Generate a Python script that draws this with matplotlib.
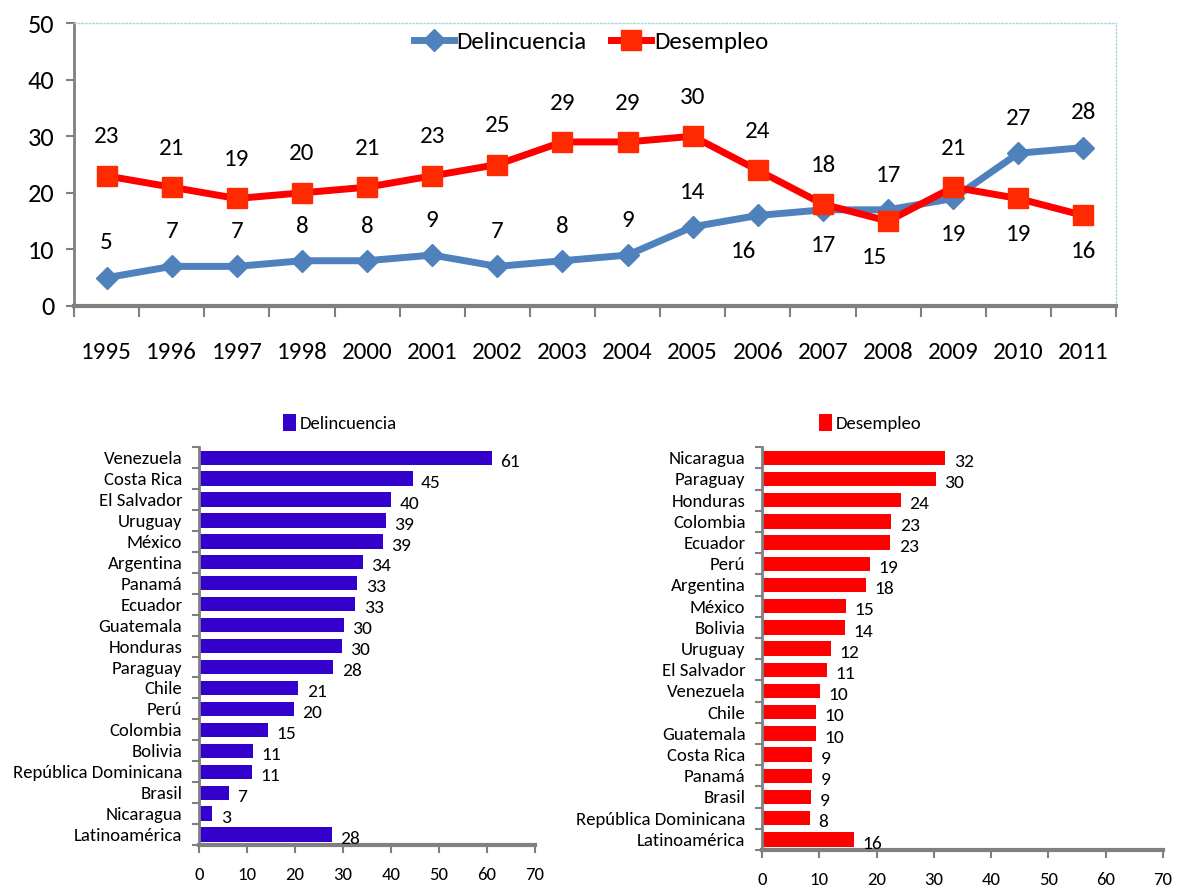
import matplotlib.pyplot as plt
import numpy as np

plt.rcParams['font.family'] = ['Carlito', 'DejaVu Sans']

# top line chart
years = ['1995', '1996', '1997', '1998', '2000', '2001', '2002', '2003', '2004',
         '2005', '2006', '2007', '2008', '2009', '2010', '2011']
delincuencia = [5, 7, 7, 8, 8, 9, 7, 8, 9, 14, 16, 17, 17, 19, 27, 28]
desempleo = [23, 21, 19, 20, 21, 23, 25, 29, 29, 30, 24, 18, 15, 21, 19, 16]
# which labels go below the point
delin_below = ['2006', '2007', '2009']
desem_below = ['2008', '2010', '2011']

# bottom bar charts
paises_delin = ['Venezuela', 'Costa Rica', 'El Salvador', 'Uruguay', 'México', 'Argentina',
                'Panamá', 'Ecuador', 'Guatemala', 'Honduras', 'Paraguay', 'Chile', 'Perú',
                'Colombia', 'Bolivia', 'República Dominicana', 'Brasil', 'Nicaragua',
                'Latinoamérica']
valores_delin = [61, 45, 40, 39, 39, 34, 33, 33, 30, 30, 28, 21, 20, 15, 11, 11, 7, 3, 28]
barras_delin = [61, 44.5, 40, 39, 38.3, 34.2, 33, 32.6, 30.2, 29.8, 28, 20.7, 19.8, 14.3,
                11.2, 11, 6.3, 2.8, 27.7]

paises_desem = ['Nicaragua', 'Paraguay', 'Honduras', 'Colombia', 'Ecuador', 'Perú',
                'Argentina', 'México', 'Bolivia', 'Uruguay', 'El Salvador', 'Venezuela',
                'Chile', 'Guatemala', 'Costa Rica', 'Panamá', 'Brasil',
                'República Dominicana', 'Latinoamérica']
valores_desem = [32, 30, 24, 23, 23, 19, 18, 15, 14, 12, 11, 10, 10, 10, 9, 9, 9, 8, 16]
barras_desem = [32, 30.3, 24.2, 22.6, 22.4, 18.9, 18.2, 14.7, 14.4, 12.1, 11.3, 10.2, 9.4,
                9.4, 8.8, 8.8, 8.6, 8.3, 16]

fig = plt.figure(figsize=(11.8, 8.89), dpi=100)

ax = fig.add_axes([0.0627, 0.6558, 0.8831, 0.3182])
x = np.arange(len(years))
blue = '#4F81BD'
ax.plot(x, delincuencia, color=blue, lw=5, marker='D', ms=11, label='Delincuencia')
ax.plot(x, desempleo, color='#FF0000', lw=5, marker='s', ms=14, mfc='#FF2A00',
        mec='#FF2A00', label='Desempleo')

for i, yr in enumerate(years):
    dy = -26 if yr in delin_below else 25
    dx = -10 if yr in ['2006'] else 0
    ax.annotate(str(delincuencia[i]), (x[i], delincuencia[i]), xytext=(dx, dy),
                textcoords='offset points', ha='center', va='center', fontsize=18)
    dy = -26 if yr in desem_below else 28
    dx = -10 if yr in ['2008'] else 0
    ax.annotate(str(desempleo[i]), (x[i], desempleo[i]), xytext=(dx, dy),
                textcoords='offset points', ha='center', va='center', fontsize=18)

ax.set_xlim(-0.5, len(years) - 0.5)
ax.set_ylim(0, 50)
ax.set_yticks(range(0, 51, 10))
ax.set_xticks(x)
ax.set_xticklabels(years)
ax.set_xticks(np.arange(-0.5, len(years), 1), minor=True)
ax.tick_params(axis='x', which='major', length=0, pad=26, labelsize=18)
ax.tick_params(axis='x', which='minor', length=8, width=1.5, color='#808080', direction='out')
ax.tick_params(axis='y', length=6, width=1.5, color='#808080', labelsize=19, pad=8)
for s in ['left', 'bottom']:
    ax.spines[s].set_color('#808080')
ax.spines['left'].set_linewidth(2)
ax.spines['bottom'].set_linewidth(3)
for s in ['top', 'right']:
    ax.spines[s].set_color('#A8D8E0')
    ax.spines[s].set_linestyle(':')
    ax.spines[s].set_linewidth(1)
ax.legend(loc='upper center', bbox_to_anchor=(0.496, 1.005), ncol=2, frameon=False,
          fontsize=18, handlelength=1.6, handletextpad=0.1, columnspacing=1.0,
          borderaxespad=0)


def barras(rect, paises, largos, valores, color, titulo, leg_x):
    a = fig.add_axes(rect)
    y = np.arange(len(paises))
    a.barh(y, largos, height=0.68, color=color, label=titulo)
    for yi, l, v in zip(y, largos, valores):
        a.annotate(str(v), (l, yi), xytext=(6, -3), textcoords='offset points',
                   ha='left', va='center', fontsize=14)
    a.set_ylim(len(paises) - 0.5, -0.5)
    a.set_xlim(0, 70)
    a.set_xticks(range(0, 71, 10))
    a.set_yticks(y)
    a.set_yticklabels(paises)
    a.set_yticks(np.arange(-0.5, len(paises), 1), minor=True)
    a.tick_params(axis='y', which='major', length=0, labelsize=13.5, pad=12)
    a.tick_params(axis='y', which='minor', length=5, color='#808080', width=1.5)
    a.tick_params(axis='x', length=6, color='#808080', width=1.5, labelsize=13.5, pad=10)
    for s in ['top', 'right']:
        a.spines[s].set_visible(False)
    a.spines['left'].set_color('#808080')
    a.spines['left'].set_linewidth(2)
    a.spines['bottom'].set_color('#808080')
    a.spines['bottom'].set_linewidth(3)
    a.legend(loc='center', bbox_to_anchor=(leg_x, 1.06), frameon=False, fontsize=13.5,
             handlelength=0.7, handleheight=1.0, handletextpad=0.2, borderaxespad=0)
    return a


barras([0.1686, 0.0495, 0.2848, 0.4475], paises_delin, barras_delin, valores_delin,
       '#3300CC', 'Delincuencia', 0.42)
barras([0.6458, 0.0439, 0.3398, 0.4531], paises_desem, barras_desem, valores_desem,
       '#FF0000', 'Desempleo', 0.27)

fig.savefig('out.png', dpi=100)
